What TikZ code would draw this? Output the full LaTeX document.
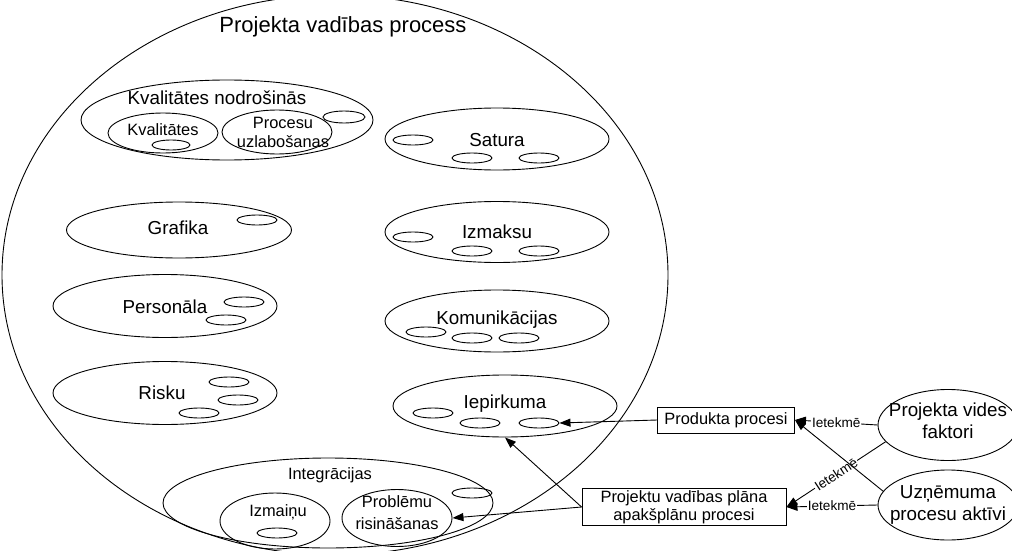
\documentclass[tikz,border=0pt]{standalone}
\usepackage{fontspec}
\setmainfont{Liberation Sans}
\usetikzlibrary{shapes.geometric,arrows.meta}
\tikzset{
  ell/.style={ellipse, draw, inner sep=0pt, line width=0.9pt},
  sm/.style={ell, minimum width=40pt, minimum height=10pt},
  bigtxt/.style={inner sep=0pt, align=center, font=\fontsize{22}{26}\selectfont},
  txt/.style={inner sep=0pt, align=center, font=\fontsize{18.8}{21.5}\selectfont},
  stxt/.style={inner sep=0pt, align=center, font=\fontsize{16.4}{19}\selectfont},
  box/.style={draw, rectangle, inner sep=0pt, line width=0.9pt, align=center, font=\fontsize{16.4}{18}\selectfont},
  arr/.style={-{Triangle[length=11pt,width=8pt]}, line width=0.9pt},
  lab/.style={fill=white, inner sep=1pt, font=\fontsize{13.6}{16}\selectfont}
}
\begin{document}
\begin{tikzpicture}[x=1pt,y=-1pt]
\useasboundingbox (0,0) rectangle (1012,551);
\clip (0,0) rectangle (1012,551);
% main process
\node[ell, minimum width=666pt, minimum height=560pt] (pm) at (335,275) {};
\node[bigtxt] (pmt) at (343,27) {Projekta vadības process};
% quality
\node[ell, minimum width=292pt, minimum height=80pt] (kn) at (227,120) {};
\node[txt] (knt) at (217,98) {Kvalitātes nodrošinās};
\node[ell, minimum width=110pt, minimum height=40pt] (kq) at (163,133) {};
\node[stxt] (kqt) at (163,130) {Kvalitātes};
\node[sm, minimum width=38pt] (kqs) at (171,145) {};
\node[ell, minimum width=110pt, minimum height=44pt] (kp) at (277,132) {};
\node[stxt] (kpt) at (283,132) {Procesu\\uzlabošanas};
\node[sm, minimum width=42pt, minimum height=12pt] (kns) at (344,117) {};
% right column
\node[ell, minimum width=224pt, minimum height=62pt] (sat) at (497,139) {};
\node[txt] (satt) at (497,140) {Satura};
\node[sm] (s1) at (413,140) {};
\node[sm] (s2) at (472,158) {};
\node[sm] (s3) at (539,158) {};
\node[ell, minimum width=224pt, minimum height=61pt] (izm) at (497,232) {};
\node[txt] (izmt) at (497,232) {Izmaksu};
\node[sm] (i1) at (413,237) {};
\node[sm] (i2) at (472,251) {};
\node[sm] (i3) at (539,251) {};
\node[ell, minimum width=224pt, minimum height=62pt] (kom) at (497,321) {};
\node[txt] (komt) at (497,320) {Komunikācijas};
\node[sm] (k1) at (426,332) {};
\node[sm] (k2) at (472,338) {};
\node[sm] (k3) at (519,338) {};
\node[ell, minimum width=224pt, minimum height=62pt] (iep) at (505,406) {};
\node[txt] (iept) at (505,404) {Iepirkuma};
\node[sm] (e1) at (433,413) {};
\node[sm] (e2) at (480,423) {};
\node[sm] (e3) at (539,423) {};
% left column
\node[ell, minimum width=225pt, minimum height=56pt] (gra) at (179,230) {};
\node[txt] (grat) at (178,228) {Grafika};
\node[sm] (g1) at (257,220) {};
\node[ell, minimum width=224pt, minimum height=63pt] (per) at (165,306) {};
\node[txt] (pert) at (165,307) {Personāla};
\node[sm] (p1) at (244,302) {};
\node[sm] (p2) at (226,320) {};
\node[ell, minimum width=224pt, minimum height=63pt] (ris) at (165,393) {};
\node[txt] (rist) at (162,393) {Risku};
\node[sm] (r1) at (229,382) {};
\node[sm] (r2) at (238,400) {};
\node[sm] (r3) at (199,413) {};
% integration
\node[ell, minimum width=330pt, minimum height=90pt] (int) at (328,503) {};
\node[stxt] (intt) at (330,475) {Integrācijas};
\node[ell, minimum width=110pt, minimum height=56pt] (izn) at (275,521) {};
\node[stxt] (iznt) at (278,512) {Izmaiņu};
\node[sm] (iz1) at (277,533) {};
\node[ell, minimum width=110pt, minimum height=57pt] (prb) at (397,518) {};
\node[stxt, font=\fontsize{16.4}{22}\selectfont] (prbt) at (397,513) {Problēmu\\risināšanas};
\node[sm] (ins) at (472,493) {};
% outside
\node[box, minimum width=137pt, minimum height=26pt] (prod) at (726,420) {Produkta procesi};
\node[box, minimum width=204pt, minimum height=37pt] (proj) at (684,507) {Projektu vadības plāna\\apakšplānu procesi};
\node[ell, minimum width=140pt, minimum height=71pt] (vid) at (948,425) {};
\node[txt] (vidt) at (948,421) {Projekta vides\\faktori};
\node[ell, minimum width=140pt, minimum height=70pt] (uzn) at (948,505) {};
\node[txt] (uznt) at (948,505) {Uzņēmuma\\procesu aktīvi};
% connectors
\draw[arr] (vid.west) -- node[lab] (l1) {Ietekmē} (prod.east);
\draw[arr] (uzn.west) -- node[lab] (l2) {Ietekmē} (proj.east);
\draw[arr] (vid.195) -- node[lab, sloped] (l3) {Ietekmē} (proj.east);
\draw[arr] (uzn.168) -- (prod.east);
\draw[arr] (prod.west) -- (e3.east);
\draw[arr] (proj.west) -- (prb.east);
\draw[arr] (proj.west) -- (iep.south);
\end{tikzpicture}
\end{document}
